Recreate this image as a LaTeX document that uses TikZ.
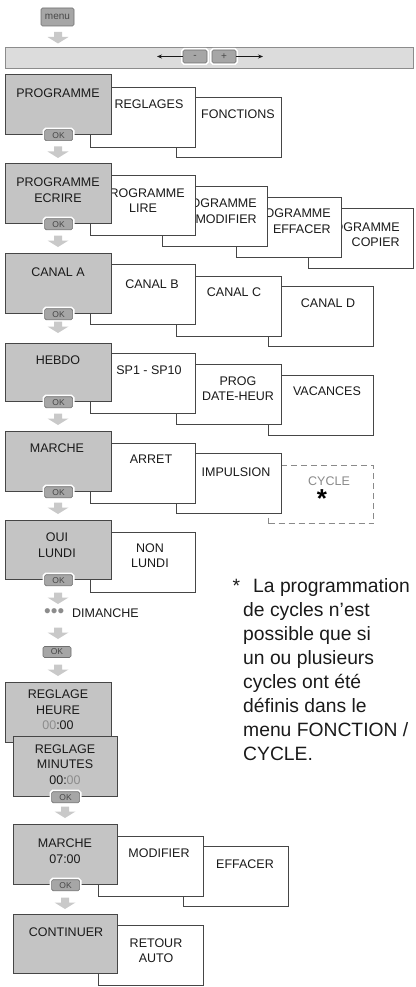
\documentclass[tikz,border=0pt]{standalone}
\usepackage{fontspec}
\setmainfont{Liberation Sans}
\usetikzlibrary{arrows.meta,calc}
\definecolor{mnuMain}{HTML}{C4C4C4}
\definecolor{mnuEdge}{HTML}{464646}
\definecolor{mnuBar}{HTML}{DCDCDC}
\definecolor{mnuBarEdge}{HTML}{8C8C8C}
\definecolor{mnuKey}{HTML}{A6A6A6}
\definecolor{mnuKeyEdge}{HTML}{707070}
\definecolor{mnuKeyText}{HTML}{484848}
\definecolor{mnuArrow}{HTML}{C9C9C9}
\definecolor{mnuOff}{HTML}{8A8A8A}
\definecolor{mnuDigit}{HTML}{8C8C8C}
\definecolor{mnuText}{HTML}{1A1A1A}
\tikzset{
  mnucard/.style={draw=mnuEdge,line width=1.2pt,anchor=north west,inner sep=0pt,
                  minimum width=105pt,minimum height=60pt},
  mnumain/.style={mnucard,fill=mnuMain,minimum width=106pt},
  mnuopt/.style={mnucard,fill=white},
  mnuoff/.style={mnucard,draw=mnuOff,dash pattern=on 6pt off 4pt,fill=white},
  mnulbl/.style={align=center,inner sep=0pt,text=mnuText,font=\fontsize{12.5}{15.5}\selectfont},
  mnukey/.style={draw=mnuKeyEdge,line width=.6pt,fill=mnuKey,rounded corners=1.5pt,inner sep=0pt,
                 text=mnuKeyText,preaction={draw=white,line width=4pt}},
  mnuok/.style={mnukey,minimum width=28pt,minimum height=11pt,font=\fontsize{8.5}{8.5}\selectfont},
  mnuflow/.style={-{Stealth[length=5pt,width=4pt]},draw=mnuText,line width=.7pt},
  mnudown/.pic={\fill[mnuArrow] (-4,-5.5) -- (4,-5.5) -- (4,-0.5) -- (10.5,-0.5) -- (0,6)
                -- (-10.5,-0.5) -- (-4,-0.5) -- cycle;},
}
% box with its caption: [caption options], style, name, top left corner, caption centre, caption
\newcommand\mnucard[6][]{\node[#2] (#3) at (#4) {}; \node[mnulbl,#1] (#3T) at (#5) {#6};}

\begin{document}
\begin{tikzpicture}[x=1pt,y=-1pt]
  \useasboundingbox (0,0) rectangle (415,987);

  % menu key and the - / + bar
  \node[mnukey,minimum width=33pt,minimum height=18pt,font=\fontsize{10}{10}\selectfont] (menu) at (57.5,17) {menu};
  \pic at (58,37.5) {mnudown};
  \node[draw=mnuBarEdge,fill=mnuBar,line width=1pt,anchor=north west,inner sep=0pt,
        minimum width=408pt,minimum height=21pt] (bar) at (5,47) {};
  \node[mnukey,minimum width=24pt,minimum height=13pt] (minus) at (195,56.5) {-};
  \node[mnukey,minimum width=24pt,minimum height=13pt] (plus) at (224,56.5) {+};
  \coordinate (barL) at (157,56.5);
  \coordinate (barR) at (263,56.5);
  \draw[mnuflow] (minus) -- (barL);
  \draw[mnuflow] (plus) -- (barR);

  % PROGRAMME
  \mnucard{mnuopt}{fonctions}{176,97}{238,114}{FONCTIONS}
  \mnucard{mnuopt}{reglages}{90,87}{149,104}{REGLAGES}
  \mnucard{mnumain}{prog}{5,74}{58,93}{PROGRAMME}
  \node[mnuok] (okProg) at (prog.south) {OK};
  \pic at (58,152) {mnudown};

  % PROGRAMME ECRIRE
  \mnucard[align=right]{mnuopt}{copier}{308,208}{358,234.5}{PROGRAMME\\COPIER}
  \mnucard[align=right]{mnuopt}{effacer}{236,197}{289,221}{PROGRAMME\\EFFACER}
  \mnucard[align=right]{mnuopt}{modifier}{162,186}{215,211}{PROGRAMME\\MODIFIER}
  \mnucard{mnuopt}{lire}{90,175}{143,200.5}{PROGRAMME\\LIRE}
  \mnucard{mnumain}{ecrire}{5,163}{58,190}{PROGRAMME\\ECRIRE}
  \node[mnuok] (okEcrire) at (ecrire.south) {OK};
  \pic at (58,241) {mnudown};

  % CANAL
  \mnucard{mnuopt}{canalD}{268,286}{328,303}{CANAL D}
  \mnucard{mnuopt}{canalC}{176,276}{234,292}{CANAL C}
  \mnucard{mnuopt}{canalB}{90,264}{152,284}{CANAL B}
  \mnucard{mnumain}{canalA}{5,253}{58,272}{CANAL A}
  \node[mnuok] (okCanal) at (canalA.south) {OK};
  \pic at (58,327) {mnudown};

  % HEBDO
  \mnucard{mnuopt}{vacances}{268,375}{327,391}{VACANCES}
  \mnucard{mnuopt}{datehr}{176,364}{238,388.5}{PROG\\DATE-HEUR}
  \mnucard{mnuopt}{sp}{90,353}{149,370}{SP1 - SP10}
  \mnucard{mnumain,minimum height=58pt}{hebdo}{5,343}{58,360}{HEBDO}
  \node[mnuok] (okHebdo) at (hebdo.south) {OK};
  \pic at (58,419) {mnudown};

  % MARCHE
  \mnucard{mnuoff,minimum height=58pt}{cycle}{268,465}{329,481}{\textcolor{mnuOff}{CYCLE}}
  \node[font=\fontsize{26}{26}\selectfont\bfseries,inner sep=0pt,anchor=base] (cycleStar) at (322,507) {*};
  \mnucard{mnuopt}{impulsion}{176,453}{236,472}{IMPULSION}
  \mnucard{mnuopt}{arret}{90,443}{151,459}{ARRET}
  \mnucard{mnumain}{marche}{5,431}{57,448}{MARCHE}
  \node[mnuok] (okMarche) at (marche.south) {OK};
  \pic at (58,508) {mnudown};

  % OUI LUNDI ... DIMANCHE
  \mnucard{mnuopt}{nonlundi}{90,532}{150,555.5}{NON\\LUNDI}
  \mnucard{mnumain,minimum height=59pt}{ouilundi}{5,520}{57,545}{OUI\\LUNDI}
  \node[mnuok] (okLundi) at (ouilundi.south) {OK};
  \pic at (58,598) {mnudown};
  \node[mnulbl,anchor=west] (dimanche) at (44,613)
       {\textcolor{mnuDigit}{\fontsize{19}{19}\selectfont •••}\hspace{8pt}DIMANCHE};
  \pic at (58,633) {mnudown};
  \node[mnuok] (okDimanche) at (57,652) {OK};
  \pic at (58,670) {mnudown};

  % REGLAGE HEURE / MINUTES
  \mnucard{mnumain}{heure}{5,682}{58,710}{REGLAGE\\HEURE\\\textcolor{mnuDigit}{00}:00}
  \mnucard{mnumain,minimum width=104pt}{minutes}{13,736}{65,764.5}{REGLAGE\\MINUTES\\00:\textcolor{mnuDigit}{00}}
  \node[mnuok] (okMinutes) at (minutes.south) {OK};
  \pic at (65,812) {mnudown};

  % MARCHE 07:00
  \mnucard{mnuopt}{effacerM}{183,846}{245,864}{EFFACER}
  \mnucard{mnuopt}{modifierM}{98,836}{159,853}{MODIFIER}
  \mnucard{mnumain,minimum width=104pt}{marcheM}{13,824}{65,851}{MARCHE\\07:00}
  \node[mnuok] (okMarcheM) at (marcheM.south) {OK};
  \pic at (65,903) {mnudown};

  % CONTINUER
  \mnucard{mnuopt}{retour}{98,925}{156,950.5}{RETOUR\\AUTO}
  \mnucard{mnumain,minimum width=104pt,minimum height=59pt}{continuer}{13,914}{66,932}{CONTINUER}

  % footnote
  \node[anchor=north west,inner sep=0pt,align=left,text=mnuText,font=\fontsize{19.3}{24}\selectfont] (note) at (243,578)
       {\llap{*\hspace{3pt}}\hspace*{10pt}La programmation\\de cycles n’est\\possible que si\\un ou plusieurs\\cycles ont été\\définis dans le\\menu FONCTION /\\CYCLE.};
\end{tikzpicture}
\end{document}
